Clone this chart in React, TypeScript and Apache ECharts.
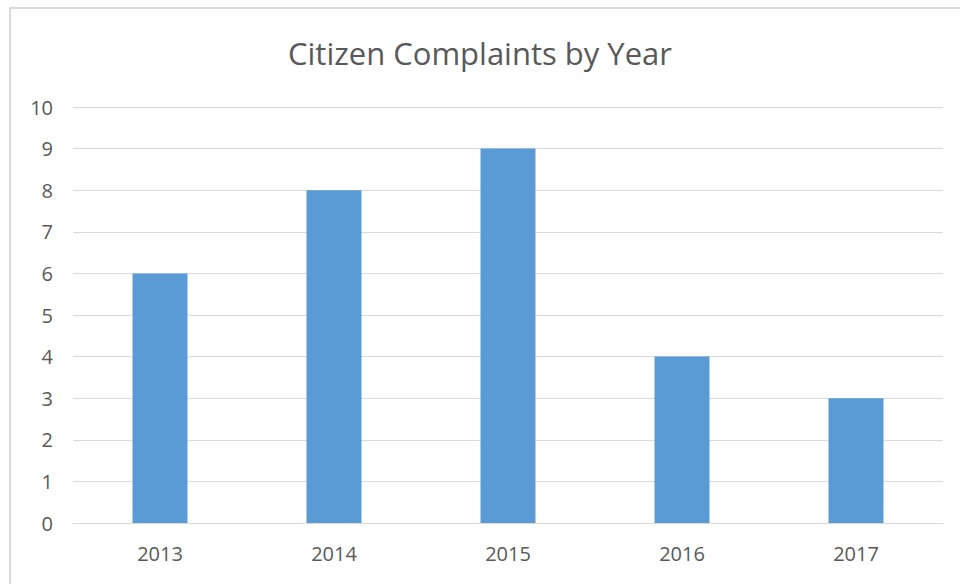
import React, { useEffect, useRef } from "react";
import * as echarts from "echarts";

const years = ["2013", "2014", "2015", "2016", "2017"];
const complaints = [6, 8, 9, 4, 3];
const titleText = "Citizen Complaints by Year";

export default function App() {
  const ref = useRef<HTMLDivElement>(null);
  useEffect(() => {
    const chart = echarts.init(ref.current!, null, { renderer: "svg" });
    chart.setOption({
      animation: false,
      backgroundColor: "#ffffff",
      title: {
        text: titleText,
        left: "center",
        top: 32,
        textStyle: { fontFamily: "Open Sans", fontSize: 31, fontWeight: "normal", color: "#595959" },
      },
      graphic: [
        {
          type: "rect",
          shape: { x: 10, y: 8, width: 1000, height: 1000 },
          style: { fill: "none", stroke: "#d9d9d9", lineWidth: 2 },
        },
      ],
      grid: { left: 73, right: 17, top: 107, bottom: 61 },
      xAxis: {
        type: "category",
        data: years,
        axisLine: { lineStyle: { color: "#d9d9d9" } },
        axisTick: { show: false },
        axisLabel: { fontFamily: "Open Sans", fontSize: 20, color: "#595959", margin: 20 },
      },
      yAxis: {
        type: "value",
        min: 0,
        max: 10,
        interval: 1,
        axisLine: { show: false },
        axisTick: { show: false },
        splitLine: { lineStyle: { color: "#d9d9d9" } },
        axisLabel: { fontFamily: "Open Sans", fontSize: 20, color: "#595959", margin: 20 },
      },
      series: [
        {
          type: "bar",
          data: complaints,
          barWidth: "31.6%",
          itemStyle: { color: "#5b9bd5" },
        },
      ],
    });
    return () => chart.dispose();
  }, []);
  return <div ref={ref} style={{ position: "absolute", left: 0, top: 0, width: 960, height: 584 }} />;
}
